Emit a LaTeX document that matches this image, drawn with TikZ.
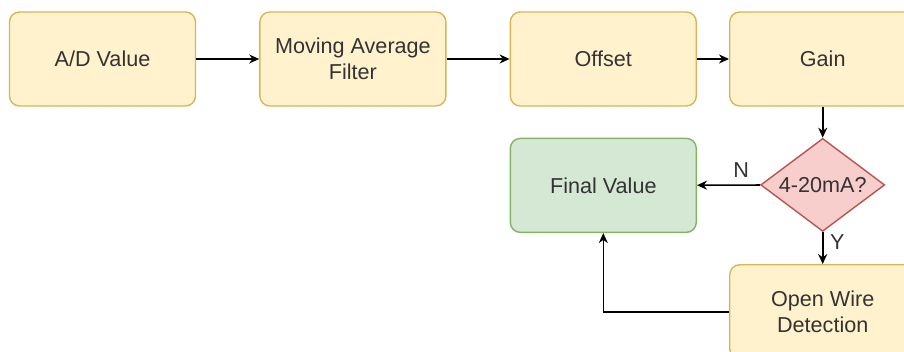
\documentclass[tikz,border=0pt]{standalone}
\usepackage{fontspec}
\setmainfont{Liberation Sans}
\usetikzlibrary{positioning,shapes.geometric,arrows.meta}
\definecolor{boxfill}{HTML}{FFF2CC}
\definecolor{boxline}{HTML}{D6B656}
\definecolor{endfill}{HTML}{D5E8D4}
\definecolor{endline}{HTML}{82B366}
\definecolor{askfill}{HTML}{F8CECC}
\definecolor{askline}{HTML}{B85450}
\definecolor{txt}{HTML}{333333}
\begin{document}
\begin{tikzpicture}[
font=\fontsize{10.8}{13}\selectfont,
stepbox/.style={rectangle, rounded corners=5pt, draw=boxline, fill=boxfill, line width=0.7pt, minimum width=93pt, minimum height=47pt, text=txt, align=center},
endbox/.style={stepbox, draw=endline, fill=endfill},
askbox/.style={diamond, shape aspect=1.33, draw=askline, fill=askfill, line width=0.7pt, minimum width=62pt, minimum height=46.5pt, inner sep=0pt, text=txt},
flow/.style={-{Stealth[length=5pt,width=4.5pt]}, line width=0.8pt, black},
lbl/.style={text=txt}
]
\useasboundingbox (-51.25pt,29.5pt) rectangle ++(452pt,-176pt);
%Nodes
\node[stepbox]   (ad)                                  {A/D Value};
\node[stepbox]   (maf)    [right=31.5pt of ad]          {Moving Average\\Filter};
\node[stepbox]   (off)    [right=31.5pt of maf]         {Offset};
\node[stepbox]   (gain)   [right=16pt of off]           {Gain};
\node[askbox]    (ask)    [below=15.5pt of gain]        {4-20mA?};
\node[endbox]    (final)  [below=15.5pt of off]         {Final Value};
\node[stepbox]   (wire)   [below=16pt of ask]           {Open Wire\\Detection};
%Lines
\draw[flow] (ad) -- (maf);
\draw[flow] (maf) -- (off);
\draw[flow] (off) -- (gain);
\draw[flow] (gain) -- (ask);
\draw[flow] (ask) -- (final) node [lbl, pos=0.3, above] {N};
\draw[flow] (ask) -- (wire) node [lbl, pos=0.3, right] {Y};
\draw[flow] (wire.west) -| (final.south);
\end{tikzpicture}
\end{document}
